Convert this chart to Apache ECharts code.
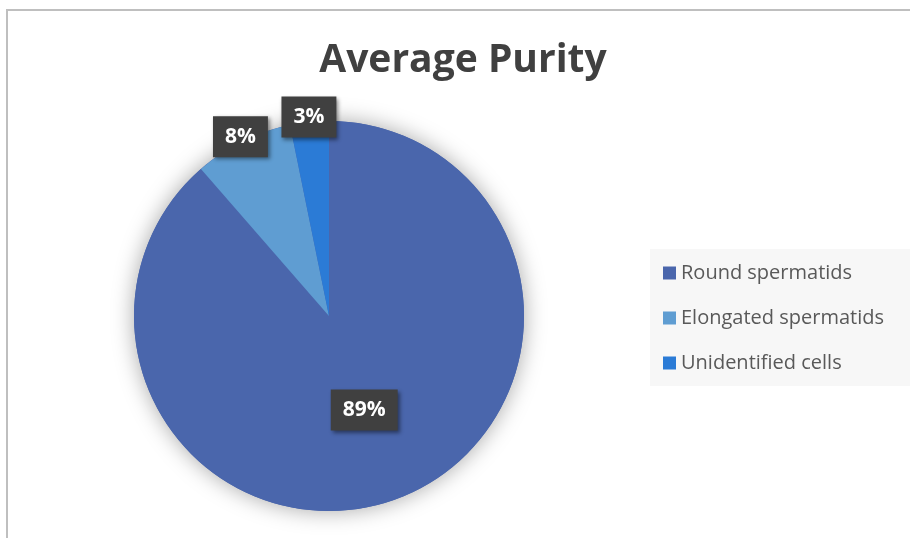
<!DOCTYPE html>
<html>
<head>
<meta charset="utf-8">
<script src="https://cdn.jsdelivr.net/npm/echarts@6/dist/echarts.min.js"></script>
<style>
html,body{margin:0;padding:0;background:#fff;}
#chart{width:910px;height:538px;}
</style>
</head>
<body>
<div id="chart"></div>
<script>
var titleText = 'Average Purity';
var categories = ['Round spermatids', 'Elongated spermatids', 'Unidentified cells'];
var values = [88.6, 8.2, 3.2];
var colors = ['#4A66AC', '#5F9DD2', '#2B7BD6'];
var outerLabelFlags = [false, true, true];

var FONT = '"Open Sans", "Noto Sans", sans-serif';
var labelBox = {
  show: true,
  formatter: '{d}%',
  color: '#ffffff',
  fontFamily: FONT,
  fontSize: 21,
  fontWeight: 'bold',
  backgroundColor: '#404040',
  padding: [10, 12, 10, 12],
  shadowBlur: 4,
  shadowOffsetX: 2,
  shadowOffsetY: 2,
  shadowColor: 'rgba(0,0,0,0.45)'
};

var mainData = categories.map(function (c, i) {
  return {
    name: c,
    value: values[i],
    itemStyle: { color: colors[i] },
    label: outerLabelFlags[i] ? { show: false } : {}
  };
});
var overlayData = categories.map(function (c, i) {
  return {
    name: c,
    value: values[i],
    itemStyle: { color: 'rgba(0,0,0,0)' },
    label: outerLabelFlags[i] ? {} : { show: false }
  };
});

var chart = echarts.init(document.getElementById('chart'), null, { renderer: 'canvas' });
chart.setOption({
  animation: false,
  backgroundColor: '#ffffff',
  title: {
    text: titleText,
    left: 463,
    textAlign: 'center',
    top: 41,
    padding: 0,
    textStyle: { fontFamily: FONT, fontSize: 39, fontWeight: 'bold', color: '#404040' }
  },
  legend: {
    orient: 'vertical',
    left: 650,
    top: 249,
    data: categories,
    icon: 'rect',
    itemWidth: 13,
    itemHeight: 13,
    itemGap: 25,
    backgroundColor: '#f7f7f7',
    padding: [14, 40, 13, 13],
    selectedMode: false,
    textStyle: { fontFamily: FONT, fontSize: 20, color: '#595959' }
  },
  graphic: [{
    type: 'rect',
    shape: { x: 7, y: 10, width: 1200, height: 1200 },
    style: { fill: 'none', stroke: '#bfbfbf', lineWidth: 2 },
    silent: true,
    z: -10
  }],
  series: [
    {
      type: 'pie',
      name: 'shadow',
      silent: true,
      center: [329, 316],
      radius: [0, 195],
      startAngle: 90,
      data: [{ name: '', value: 1, itemStyle: { color: colors[0], shadowBlur: 22, shadowColor: 'rgba(0,0,0,0.35)' } }],
      label: { show: false },
      labelLine: { show: false },
      emphasis: { disabled: true }
    },
    {
      type: 'pie',
      name: 'Average Purity',
      silent: true,
      center: [329, 316],
      radius: [0, 195],
      startAngle: 90,
      clockwise: true,
      percentPrecision: 0,
      avoidLabelOverlap: false,
      data: mainData,
      label: Object.assign({ position: 'inside' }, labelBox),
      labelLine: { show: false },
      labelLayout: { hideOverlap: false },
      emphasis: { disabled: true }
    },
    {
      type: 'pie',
      name: 'labels',
      silent: true,
      center: [329, 316],
      radius: [186, 208],
      startAngle: 90,
      clockwise: true,
      percentPrecision: 0,
      avoidLabelOverlap: false,
      minShowLabelAngle: 0,
      data: overlayData,
      label: Object.assign({ position: 'inside' }, labelBox),
      labelLine: { show: false },
      labelLayout: { hideOverlap: false },
      emphasis: { disabled: true }
    }
  ]
});
</script>
</body>
</html>
